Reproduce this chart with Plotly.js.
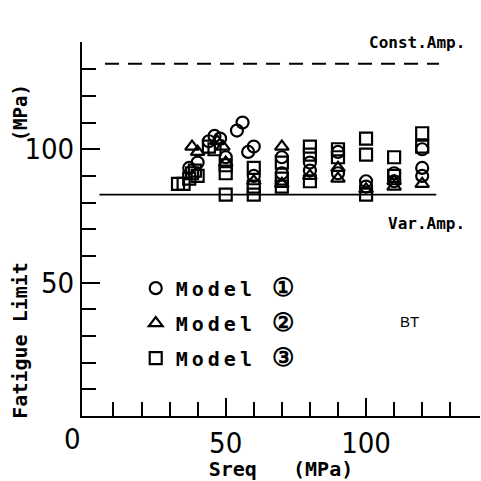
<!DOCTYPE html>
<html>
<head>
<meta charset="utf-8">
<script src="https://cdn.plot.ly/plotly-3.0.1.min.js"></script>
<style>
  html, body { margin: 0; padding: 0; background: #fff; }
  #chart { width: 481px; height: 481px; }
  .legendtext { letter-spacing: 4px; }
</style>
</head>
<body>
<div id="chart"></div>
<script>
// Fatigue limit vs. equivalent stress range, three models
const model1X = [37, 40, 44, 46, 48, 50, 54, 56, 58, 60, 60, 70, 70, 80, 80, 90, 90, 100, 100, 110, 110, 120, 120, 120];
const model1Y = [93, 95, 103, 105, 104, 97, 107, 110, 99, 101, 90, 97, 91, 95, 92, 99, 91, 88, 86, 91, 88, 100, 93, 90];

const model2X = [38, 40, 47, 49, 50, 60, 70, 70, 80, 90, 90, 100, 110, 110, 120];
const model2Y = [101, 99, 103, 101, 95, 88, 101, 87, 90, 93, 89, 85, 88, 86, 87];

const model3X = [33, 35, 37, 38, 39, 40, 44, 46, 50, 50, 50, 60, 60, 60, 70, 70, 70, 80, 80, 80, 90, 90, 100, 100, 100, 110, 110, 120, 120];
const model3Y = [87, 87, 89, 91, 92, 90, 101, 100, 94, 91, 83, 93, 86, 83, 95, 89, 86, 101, 98, 88, 100, 97, 104, 98, 83, 97, 90, 106, 101];

// Reference levels
const constAmpX = [7, 126];
const constAmpY = [132, 132];
const varAmpX = [5, 125];
const varAmpY = [83, 83];

const circled = ['\u2460', '\u2461', '\u2462'];
const seriesNames = circled.map(c => 'Model <span style="font-size:25px">' + c + '</span>');
const xTickVals = [50, 100];
const xTickText = ['50', '100'];
const yTickVals = [50, 100];
const yTickText = ['50', '100'];
const xMinorVals = [10, 20, 30, 40, 60, 70, 80, 90, 110, 120, 130];
const yMinorVals = [10, 20, 30, 40, 60, 70, 80, 90, 110, 120, 130, 140];

const monoBold = { family: 'DejaVu Sans Mono', size: 16, color: '#000', weight: 'bold' };
const tickFont = { family: 'Liberation Sans Narrow, DejaVu Sans Condensed, Liberation Sans', size: 29, color: '#000' };

function markerTrace(x, y, name, symbol, group) {
  return {
    type: 'scatter', mode: 'markers', x: x, y: y, name: name,
    legendgroup: group,
    marker: { symbol: symbol, size: 12, color: '#000', line: { width: 2.2, color: '#000' } }
  };
}

const traces = [
  { type: 'scatter', mode: 'lines', x: constAmpX, y: constAmpY, showlegend: false,
    line: { color: '#000', width: 2, dash: '14px,9px' }, hoverinfo: 'skip' },
  { type: 'scatter', mode: 'lines', x: varAmpX, y: varAmpY, showlegend: false,
    line: { color: '#000', width: 1.6 }, hoverinfo: 'skip' },
  markerTrace(model1X, model1Y, seriesNames[0], 'circle-open', 'g1'),
  markerTrace(model2X, model2Y, seriesNames[1], 'triangle-up-open', 'g2'),
  markerTrace(model3X, model3Y, seriesNames[2], 'square-open', 'g3')
];

const layout = {
  width: 481, height: 481,
  margin: { l: 82, r: 1, t: 42, b: 65 },
  paper_bgcolor: '#fff', plot_bgcolor: '#fff',
  showlegend: true,
  legend: {
    x: 0.135, y: 0.394, xanchor: 'left', yanchor: 'top',
    bgcolor: 'rgba(0,0,0,0)', borderwidth: 0,
    font: { family: 'DejaVu Sans Mono', size: 20, color: '#000', weight: 'bold' },
    tracegroupgap: 6, itemwidth: 30
  },
  xaxis: {
    range: [-1.2, 140.6], showgrid: false, zeroline: false,
    showline: true, linecolor: '#000', linewidth: 2,
    tickmode: 'array', tickvals: xTickVals, ticktext: xTickText,
    ticks: 'inside', ticklen: 18, tickwidth: 2, tickcolor: '#000',
    tickfont: tickFont,
    minor: { tickmode: 'array', tickvals: xMinorVals, ticks: 'inside', ticklen: 14, tickwidth: 2, tickcolor: '#000' },
    title: { text: 'Sreq\u00a0\u00a0\u00a0(MPa)', font: { family: 'DejaVu Sans Mono', size: 20, color: '#000', weight: 'bold' }, standoff: 4 }
  },
  yaxis: {
    range: [0, 140.2], showgrid: false, zeroline: false,
    showline: true, linecolor: '#000', linewidth: 2,
    tickmode: 'array', tickvals: yTickVals, ticktext: yTickText,
    ticks: 'inside', ticklen: 18, tickwidth: 2, tickcolor: '#000',
    tickfont: tickFont,
    minor: { tickmode: 'array', tickvals: yMinorVals, ticks: 'inside', ticklen: 14, tickwidth: 2, tickcolor: '#000' }
  },
  annotations: [
    { text: '0', xref: 'x', yref: 'paper', x: 0, y: 0, xanchor: 'center', yanchor: 'top',
      xshift: -13, yshift: -4, showarrow: false, font: tickFont },
    { text: 'Fatigue\u00a0Limit', xref: 'paper', yref: 'paper', x: -0.155, y: -0.013,
      xanchor: 'center', yanchor: 'bottom', textangle: -90, showarrow: false,
      font: { family: 'DejaVu Sans Mono', size: 20, color: '#000', weight: 'bold' } },
    { text: '(MPa)', xref: 'paper', yref: 'paper', x: -0.155, y: 0.81,
      xanchor: 'center', yanchor: 'middle', textangle: -90, showarrow: false,
      font: { family: 'DejaVu Sans Mono', size: 19, color: '#000', weight: 'bold' } },
    { text: 'Const.Amp.', xref: 'paper', yref: 'paper', x: 0.967, y: 1.0, xanchor: 'right', yanchor: 'middle',
      showarrow: false, font: monoBold },
    { text: 'Var.Amp.', xref: 'paper', yref: 'paper', x: 0.967, y: 0.516, xanchor: 'right', yanchor: 'middle',
      showarrow: false, font: monoBold },
    { text: 'BT', xref: 'paper', yref: 'paper', x: 0.822, y: 0.254, xanchor: 'center', yanchor: 'middle',
      showarrow: false, font: { family: 'Liberation Sans Narrow, Liberation Sans', size: 15, color: '#000' } }
  ]
};

Plotly.newPlot('chart', traces, layout, { staticPlot: true, displayModeBar: false });
</script>
</body>
</html>
